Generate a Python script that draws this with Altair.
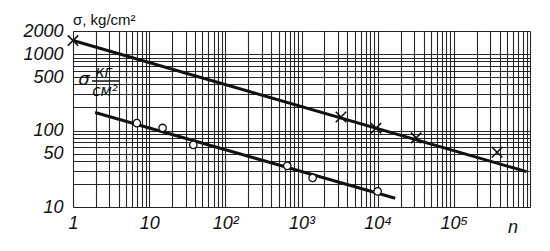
import math
import altair as alt
import pandas as pd

# ---- data ----
upper_line_n = [1, 900000]
upper_line_sigma = [1500, 29]
lower_line_n = [1.95, 17000]
lower_line_sigma = [172, 13]

cross_n = [1, 3300, 9500, 32000, 370000]
cross_sigma = [1500, 150, 107, 80, 52]
circle_n = [6.9, 15, 38, 650, 1400, 10000]
circle_sigma = [125, 108, 65, 34.5, 24, 16]

x_label_values = [1, 10, 100, 1000, 10000, 100000]
x_label_texts = ["1", "10", "10²", "10³", "10⁴", "10⁵"]
y_label_values = [10, 50, 100, 500, 1000, 2000]
y_label_texts = ["10", "50", "100", "500", "1000", "2000"]

x_grid = [k * 10 ** e for e in range(6) for k in range(1, 10)] + [10 ** 6]
y_grid = [k * 10 ** e for e in range(1, 4) for k in range(1, 10)]
y_grid = [v for v in y_grid if v <= 2000]

# ---- tables ----
lines_df = pd.DataFrame({
    "n": upper_line_n + lower_line_n,
    "sigma": upper_line_sigma + lower_line_sigma,
    "series": ["upper"] * 2 + ["lower"] * 2,
})
cross_df = pd.DataFrame({"n": cross_n, "sigma": cross_sigma})
circle_df = pd.DataFrame({"n": circle_n, "sigma": circle_sigma})


def label_expr(values, texts):
    parts = []
    for v, t in zip(values, texts):
        parts.append(f"abs(datum.value - {v}) < {v}*1e-6 ? '{t}'")
    return " : ".join(parts) + " : ''"


LABEL_FONT = "Liberation Sans"

x_axis = alt.Axis(
    values=x_grid, grid=True, gridColor="#111", gridWidth=1.1, gridOpacity=0.9,
    ticks=False, domain=False, labelExpr=label_expr(x_label_values, x_label_texts),
    labelFont=LABEL_FONT, labelFontSize=18, labelFontStyle="italic", labelColor="#111",
    labelPadding=7, labelOverlap=False, labelFlush=False, title=None,
)
y_axis = alt.Axis(
    values=y_grid, grid=True, gridColor="#111", gridWidth=1.1, gridOpacity=0.9,
    ticks=False, domain=False, labelExpr=label_expr(y_label_values, y_label_texts),
    labelFont=LABEL_FONT, labelFontSize=18, labelFontStyle="italic", labelColor="#111",
    labelPadding=10, labelOverlap=False, labelFlush=False, title=None,
)

x_enc = alt.X("n:Q", scale=alt.Scale(type="log", domain=[1, 1e6], nice=False), axis=x_axis)
y_enc = alt.Y("sigma:Q", scale=alt.Scale(type="log", domain=[10, 2000], nice=False), axis=y_axis)

lines = alt.Chart(lines_df).mark_line(color="#111", strokeWidth=3).encode(
    x=x_enc, y=y_enc, detail="series:N"
)

crosses = alt.Chart(cross_df).mark_point(
    shape="M-1,-1L1,1M-1,1L1,-1", size=110, stroke="#111", strokeWidth=1.6,
    fill="white", fillOpacity=0, opacity=1,
).encode(x=x_enc, y=y_enc)

circles = alt.Chart(circle_df).mark_point(
    shape="circle", size=55, stroke="#111", strokeWidth=1.3,
    fill="white", fillOpacity=1, opacity=1, filled=False,
).encode(x=x_enc, y=y_enc)

one = pd.DataFrame({"t": [0]})

title_txt = alt.Chart(one).mark_text(
    text="σ, kg/cm²", align="left", baseline="alphabetic", font="Liberation Sans",
    fontSize=15, color="#111",
).encode(x=alt.value(0), y=alt.value(-6))

n_txt = alt.Chart(one).mark_text(
    text="n", align="center", baseline="middle", font=LABEL_FONT,
    fontSize=18, fontStyle="italic", color="#111",
).encode(x=alt.value(440), y=alt.value(197))

sig_txt = alt.Chart(one).mark_text(
    text="σ", align="center", baseline="middle", font="DejaVu Sans",
    fontSize=18, fontStyle="italic", color="#111",
).encode(x=alt.value(11), y=alt.value(49))

kg_txt = alt.Chart(one).mark_text(
    text="кг", align="center", baseline="middle", font="DejaVu Sans",
    fontSize=15, fontStyle="italic", color="#111",
).encode(x=alt.value(31), y=alt.value(41))

frac_rule = alt.Chart(one).mark_rule(color="#111", strokeWidth=1.5).encode(
    x=alt.value(19), x2=alt.value(46), y=alt.value(50)
)

cm_txt = alt.Chart(one).mark_text(
    text="см²", align="center", baseline="middle", font="DejaVu Sans",
    fontSize=15, fontStyle="italic", color="#111",
).encode(x=alt.value(32), y=alt.value(60))

chart = alt.layer(
    lines, crosses, circles, title_txt, n_txt, sig_txt, kg_txt, frac_rule, cm_txt
).properties(
    width=457, height=176,
    autosize=alt.AutoSizeParams(type="none"),
    padding={"left": 65, "top": 23, "right": 10, "bottom": 30},
).configure_view(
    stroke="#111", strokeWidth=1.5
).configure(background="white")

chart.save("out.html", embed_options={"renderer": "svg", "actions": False})
